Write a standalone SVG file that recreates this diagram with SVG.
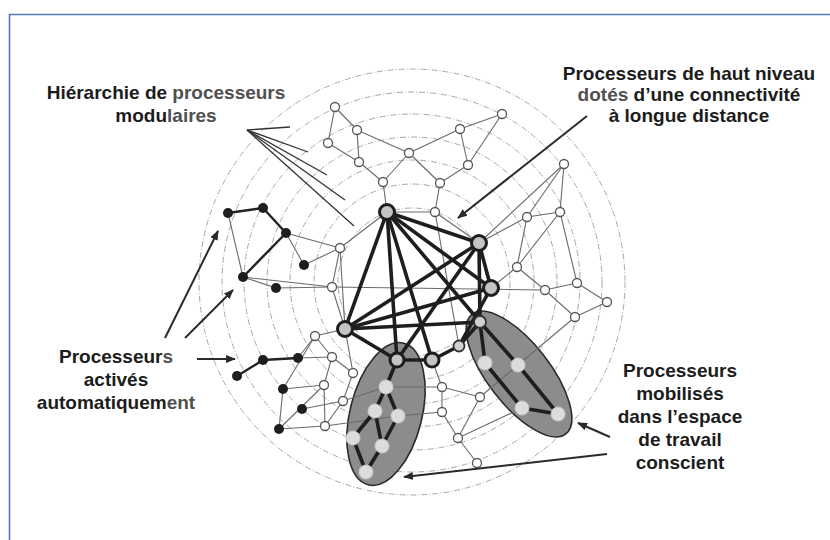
<svg xmlns="http://www.w3.org/2000/svg" width="830" height="540" viewBox="0 0 830 540">
<style>
.ring{fill:none;stroke:#a8a8a8;stroke-width:1;stroke-dasharray:6 2 1 2}
.thin{stroke:#6a6a6a;stroke-width:1.1;fill:none}
.mid{stroke:#222;stroke-width:2.4;fill:none}
.thick{stroke:#1e1e1e;stroke-width:3.6;fill:none;stroke-linecap:round}
.ptr{stroke:#333;stroke-width:1.3;fill:none}
.arr{stroke:#2a2a2a;stroke-width:2;fill:none;marker-end:url(#ah)}
.o{fill:#fff;stroke:#555;stroke-width:1.3}
.b{fill:#1e1e1e}
.h{fill:#c4c4c4;stroke:#1e1e1e;stroke-width:3}
.hs{fill:#d0d0d0;stroke:#333;stroke-width:1.8}
.e{fill:#dcdcdc;stroke:#c8c8c8;stroke-width:1}
.zone{fill:#8c8c8c;stroke:#2a2a2a;stroke-width:1.6}
.lbl{font-family:"Liberation Sans",Arial,sans-serif;font-weight:bold;font-size:19px;fill:#1c1c1c;text-anchor:middle}
.g{fill:#505050}
</style>
<defs>
<marker id="ah" viewBox="0 0 10 8" refX="9" refY="4" markerWidth="10" markerHeight="8" markerUnits="userSpaceOnUse" orient="auto">
<path d="M0,0 L10,4 L0,8 Z" fill="#2a2a2a"/>
</marker>
</defs>
<rect width="830" height="540" fill="#fff"/>
<path d="M9.5,540 V14.5 H830" fill="none" stroke="#4f7cb8" stroke-width="1.6"/>

<g id="rings">
<circle class="ring" cx="412" cy="282" r="213"/>
<circle class="ring" cx="412" cy="282" r="190"/>
<circle class="ring" cx="412" cy="282" r="168"/>
<circle class="ring" cx="412" cy="282" r="145"/>
<circle class="ring" cx="412" cy="282" r="122"/>
<circle class="ring" cx="412" cy="282" r="98"/>
<circle class="ring" cx="412" cy="282" r="74"/>
</g>

<g id="workspace-zones">
<ellipse class="zone" cx="386" cy="414" rx="73" ry="36" transform="rotate(-76 386 414)"/>
<ellipse class="zone" cx="519" cy="374" rx="76" ry="31" transform="rotate(52 519 374)"/>
</g>

<g id="connectors">
<line class="ptr" x1="247" y1="130" x2="290" y2="127"/>
<line class="ptr" x1="247" y1="130" x2="308" y2="152"/>
<line class="ptr" x1="247" y1="130" x2="327" y2="175"/>
<line class="ptr" x1="247" y1="130" x2="345" y2="200"/>
<line class="ptr" x1="247" y1="130" x2="354" y2="226"/>
<line class="thin" x1="335" y1="107" x2="357" y2="130"/>
<line class="thin" x1="335" y1="107" x2="328" y2="143"/>
<line class="thin" x1="357" y1="130" x2="359" y2="162"/>
<line class="thin" x1="328" y1="143" x2="359" y2="162"/>
<line class="thin" x1="357" y1="130" x2="409" y2="153"/>
<line class="thin" x1="359" y1="162" x2="383" y2="182"/>
<line class="thin" x1="383" y1="182" x2="409" y2="153"/>
<line class="thin" x1="383" y1="182" x2="387" y2="212"/>
<line class="thin" x1="409" y1="153" x2="460" y2="129"/>
<line class="thin" x1="460" y1="129" x2="502" y2="114"/>
<line class="thin" x1="460" y1="129" x2="468" y2="165"/>
<line class="thin" x1="502" y1="114" x2="468" y2="165"/>
<line class="thin" x1="409" y1="153" x2="440" y2="183"/>
<line class="thin" x1="468" y1="165" x2="440" y2="183"/>
<line class="thin" x1="440" y1="183" x2="435" y2="212"/>
<line class="thin" x1="387" y1="212" x2="435" y2="212"/>
<line class="thin" x1="435" y1="212" x2="479" y2="243"/>
<line class="thin" x1="435" y1="212" x2="459" y2="346"/>
<line class="thin" x1="564" y1="164" x2="560" y2="212"/>
<line class="thin" x1="564" y1="164" x2="527" y2="217"/>
<line class="thin" x1="564" y1="164" x2="479" y2="243"/>
<line class="thin" x1="527" y1="217" x2="560" y2="212"/>
<line class="thin" x1="527" y1="217" x2="517" y2="267"/>
<line class="thin" x1="560" y1="212" x2="517" y2="267"/>
<line class="thin" x1="560" y1="212" x2="577" y2="283"/>
<line class="thin" x1="527" y1="217" x2="479" y2="243"/>
<line class="thin" x1="517" y1="267" x2="545" y2="290"/>
<line class="thin" x1="517" y1="267" x2="491" y2="288"/>
<line class="thin" x1="545" y1="290" x2="577" y2="283"/>
<line class="thin" x1="577" y1="283" x2="607" y2="302"/>
<line class="thin" x1="545" y1="290" x2="575" y2="317"/>
<line class="thin" x1="575" y1="317" x2="607" y2="302"/>
<line class="thin" x1="575" y1="317" x2="518" y2="365"/>
<line class="thin" x1="332" y1="287" x2="545" y2="290"/>
<line class="thin" x1="228" y1="213" x2="243" y2="277"/>
<line class="thin" x1="286" y1="233" x2="304" y2="265"/>
<line class="thin" x1="286" y1="233" x2="340" y2="248"/>
<line class="thin" x1="304" y1="265" x2="340" y2="248"/>
<line class="thin" x1="243" y1="277" x2="276" y2="288"/>
<line class="thin" x1="243" y1="277" x2="332" y2="287"/>
<line class="thin" x1="276" y1="288" x2="332" y2="287"/>
<line class="thin" x1="340" y1="248" x2="332" y2="287"/>
<line class="thin" x1="340" y1="248" x2="387" y2="212"/>
<line class="thin" x1="340" y1="248" x2="345" y2="329"/>
<line class="thin" x1="332" y1="287" x2="345" y2="329"/>
<line class="thin" x1="298" y1="358" x2="315" y2="336"/>
<line class="thin" x1="298" y1="358" x2="332" y2="357"/>
<line class="thin" x1="283" y1="389" x2="279" y2="429"/>
<line class="thin" x1="283" y1="389" x2="324" y2="385"/>
<line class="thin" x1="283" y1="389" x2="315" y2="336"/>
<line class="thin" x1="302" y1="409" x2="343" y2="401"/>
<line class="thin" x1="279" y1="429" x2="325" y2="426"/>
<line class="thin" x1="279" y1="429" x2="324" y2="385"/>
<line class="thin" x1="315" y1="336" x2="345" y2="329"/>
<line class="thin" x1="315" y1="336" x2="332" y2="357"/>
<line class="thin" x1="332" y1="357" x2="324" y2="385"/>
<line class="thin" x1="324" y1="385" x2="325" y2="426"/>
<line class="thin" x1="343" y1="401" x2="325" y2="426"/>
<line class="thin" x1="345" y1="329" x2="353" y2="373"/>
<line class="thin" x1="332" y1="357" x2="353" y2="373"/>
<line class="thin" x1="353" y1="373" x2="343" y2="401"/>
<line class="thin" x1="325" y1="426" x2="398" y2="416"/>
<line class="thin" x1="343" y1="401" x2="386" y2="387"/>
<line class="thin" x1="432" y1="360" x2="442" y2="387"/>
<line class="thin" x1="442" y1="387" x2="480" y2="397"/>
<line class="thin" x1="442" y1="387" x2="442" y2="412"/>
<line class="thin" x1="442" y1="412" x2="458" y2="438"/>
<line class="thin" x1="458" y1="438" x2="477" y2="463"/>
<line class="thin" x1="480" y1="397" x2="458" y2="438"/>
<line class="thin" x1="398" y1="416" x2="442" y2="412"/>
<line class="thin" x1="386" y1="387" x2="442" y2="387"/>
<line class="thin" x1="458" y1="438" x2="522" y2="408"/>
<line class="thin" x1="480" y1="397" x2="518" y2="365"/>
<line class="mid" x1="228" y1="213" x2="263" y2="208"/>
<line class="mid" x1="263" y1="208" x2="286" y2="233"/>
<line class="mid" x1="286" y1="233" x2="243" y2="277"/>
<line class="mid" x1="263" y1="360" x2="298" y2="358"/>
<line class="mid" x1="237" y1="376" x2="263" y2="360"/>
<line class="thick" x1="387" y1="212" x2="479" y2="243"/>
<line class="thick" x1="387" y1="212" x2="345" y2="329"/>
<line class="thick" x1="387" y1="212" x2="397" y2="360"/>
<line class="thick" x1="387" y1="212" x2="432" y2="360"/>
<line class="thick" x1="387" y1="212" x2="480" y2="322"/>
<line class="thick" x1="387" y1="212" x2="491" y2="288"/>
<line class="thick" x1="479" y1="243" x2="491" y2="288"/>
<line class="thick" x1="479" y1="243" x2="345" y2="329"/>
<line class="thick" x1="479" y1="243" x2="397" y2="360"/>
<line class="thick" x1="479" y1="243" x2="480" y2="322"/>
<line class="thick" x1="491" y1="288" x2="345" y2="329"/>
<line class="thick" x1="491" y1="288" x2="459" y2="346"/>
<line class="thick" x1="345" y1="329" x2="480" y2="322"/>
<line class="thick" x1="345" y1="329" x2="397" y2="360"/>
<line class="thick" x1="397" y1="360" x2="432" y2="360"/>
<line class="thick" x1="432" y1="360" x2="459" y2="346"/>
<line class="thick" x1="459" y1="346" x2="480" y2="322"/>
<line class="thick" x1="397" y1="360" x2="386" y2="387"/>
<line class="thick" x1="386" y1="387" x2="375" y2="411"/>
<line class="thick" x1="386" y1="387" x2="398" y2="416"/>
<line class="thick" x1="375" y1="411" x2="353" y2="438"/>
<line class="thick" x1="375" y1="411" x2="382" y2="446"/>
<line class="thick" x1="398" y1="416" x2="382" y2="446"/>
<line class="thick" x1="353" y1="438" x2="366" y2="472"/>
<line class="thick" x1="382" y1="446" x2="366" y2="472"/>
<line class="thick" x1="480" y1="322" x2="485" y2="363"/>
<line class="thick" x1="480" y1="322" x2="518" y2="365"/>
<line class="thick" x1="485" y1="363" x2="522" y2="408"/>
<line class="thick" x1="518" y1="365" x2="558" y2="414"/>
<line class="thick" x1="522" y1="408" x2="558" y2="414"/>
<line class="arr" x1="587" y1="116" x2="458" y2="218"/>
<line class="arr" x1="165" y1="338" x2="218" y2="231"/>
<line class="arr" x1="185" y1="338" x2="233" y2="290"/>
<line class="arr" x1="197" y1="359" x2="235" y2="359"/>
<line class="arr" x1="610" y1="437" x2="578" y2="423"/>
<line class="arr" x1="607" y1="454" x2="404" y2="477"/>
</g>

<g id="node-o1"><circle class="o" cx="335" cy="107" r="4.5"/></g>
<g id="node-o2"><circle class="o" cx="357" cy="130" r="4.5"/></g>
<g id="node-o3"><circle class="o" cx="328" cy="143" r="4.5"/></g>
<g id="node-o4"><circle class="o" cx="359" cy="162" r="4.5"/></g>
<g id="node-o5"><circle class="o" cx="383" cy="182" r="4.5"/></g>
<g id="node-o6"><circle class="o" cx="409" cy="153" r="4.5"/></g>
<g id="node-o7"><circle class="o" cx="460" cy="129" r="4.5"/></g>
<g id="node-o8"><circle class="o" cx="502" cy="114" r="4.5"/></g>
<g id="node-o9"><circle class="o" cx="468" cy="165" r="4.5"/></g>
<g id="node-o10"><circle class="o" cx="440" cy="183" r="4.5"/></g>
<g id="node-o11"><circle class="o" cx="435" cy="212" r="4.5"/></g>
<g id="node-o12"><circle class="o" cx="564" cy="164" r="4.5"/></g>
<g id="node-o13"><circle class="o" cx="527" cy="217" r="4.5"/></g>
<g id="node-o14"><circle class="o" cx="560" cy="212" r="4.5"/></g>
<g id="node-o15"><circle class="o" cx="517" cy="267" r="4.5"/></g>
<g id="node-o16"><circle class="o" cx="545" cy="290" r="4.5"/></g>
<g id="node-o17"><circle class="o" cx="577" cy="283" r="4.5"/></g>
<g id="node-o18"><circle class="o" cx="607" cy="302" r="4.5"/></g>
<g id="node-o19"><circle class="o" cx="575" cy="317" r="4.5"/></g>
<g id="node-o20"><circle class="o" cx="340" cy="248" r="4.5"/></g>
<g id="node-o21"><circle class="o" cx="332" cy="287" r="4.5"/></g>
<g id="node-o22"><circle class="o" cx="315" cy="336" r="4.5"/></g>
<g id="node-o23"><circle class="o" cx="332" cy="357" r="4.5"/></g>
<g id="node-o24"><circle class="o" cx="324" cy="385" r="4.5"/></g>
<g id="node-o25"><circle class="o" cx="343" cy="401" r="4.5"/></g>
<g id="node-o26"><circle class="o" cx="325" cy="426" r="4.5"/></g>
<g id="node-o27"><circle class="o" cx="353" cy="373" r="4.5"/></g>
<g id="node-o28"><circle class="o" cx="442" cy="387" r="4.5"/></g>
<g id="node-o29"><circle class="o" cx="480" cy="397" r="4.5"/></g>
<g id="node-o30"><circle class="o" cx="442" cy="412" r="4.5"/></g>
<g id="node-o31"><circle class="o" cx="458" cy="438" r="4.5"/></g>
<g id="node-o32"><circle class="o" cx="477" cy="463" r="4.5"/></g>

<g id="node-b1"><circle class="b" cx="228" cy="213" r="5"/></g>
<g id="node-b2"><circle class="b" cx="263" cy="208" r="5"/></g>
<g id="node-b3"><circle class="b" cx="286" cy="233" r="5"/></g>
<g id="node-b4"><circle class="b" cx="243" cy="277" r="5"/></g>
<g id="node-b5"><circle class="b" cx="304" cy="265" r="5"/></g>
<g id="node-b6"><circle class="b" cx="276" cy="288" r="5"/></g>
<g id="node-b7"><circle class="b" cx="298" cy="358" r="5"/></g>
<g id="node-b8"><circle class="b" cx="263" cy="360" r="5"/></g>
<g id="node-b9"><circle class="b" cx="237" cy="376" r="5"/></g>
<g id="node-b10"><circle class="b" cx="283" cy="389" r="5"/></g>
<g id="node-b11"><circle class="b" cx="302" cy="409" r="5"/></g>
<g id="node-b12"><circle class="b" cx="279" cy="429" r="5"/></g>

<g id="node-h1"><circle class="h" cx="387" cy="212" r="7.5"/></g>
<g id="node-h2"><circle class="h" cx="479" cy="243" r="7.5"/></g>
<g id="node-h3"><circle class="h" cx="491" cy="288" r="7.5"/></g>
<g id="node-h4"><circle class="h" cx="345" cy="329" r="7.5"/></g>
<g id="node-h5"><circle class="h" cx="397" cy="360" r="7"/></g>
<g id="node-h6"><circle class="h" cx="432" cy="360" r="7"/></g>
<g id="node-h7"><circle class="hs" cx="480" cy="322" r="6"/></g>
<g id="node-h8"><circle class="hs" cx="459" cy="346" r="5.5"/></g>

<g id="node-l1"><circle class="e" cx="386" cy="387" r="7"/></g>
<g id="node-l2"><circle class="e" cx="375" cy="411" r="7"/></g>
<g id="node-l3"><circle class="e" cx="398" cy="416" r="7"/></g>
<g id="node-l4"><circle class="e" cx="353" cy="438" r="7"/></g>
<g id="node-l5"><circle class="e" cx="382" cy="446" r="7"/></g>
<g id="node-l6"><circle class="e" cx="366" cy="472" r="7"/></g>
<g id="node-r1"><circle class="e" cx="485" cy="363" r="7"/></g>
<g id="node-r2"><circle class="e" cx="518" cy="365" r="7"/></g>
<g id="node-r3"><circle class="e" cx="522" cy="408" r="7"/></g>
<g id="node-r4"><circle class="e" cx="558" cy="414" r="7"/></g>

<g id="label-hierarchie" class="lbl">
<text x="166" y="99">Hiérarchie de <tspan class="g">processeurs</tspan></text>
<text x="166" y="122">modu<tspan class="g">laires</tspan></text>
</g>
<g id="label-haut-niveau" class="lbl">
<text x="689" y="80">Processeurs de haut niveau</text>
<text x="689" y="101"><tspan class="g">dotés</tspan> d’une connectivité</text>
<text x="689" y="122">à longue distance</text>
</g>
<g id="label-actives" class="lbl">
<text x="116" y="363">Processeur<tspan class="g">s</tspan></text>
<text x="116" y="386">activés</text>
<text x="116" y="409">automatiquem<tspan class="g">ent</tspan></text>
</g>
<g id="label-mobilises" class="lbl">
<text x="680" y="377">Processeurs</text>
<text x="680" y="400">mobilisés</text>
<text x="680" y="423">dans l’espace</text>
<text x="680" y="446">de travail</text>
<text x="680" y="469">conscient</text>
</g>
</svg>
